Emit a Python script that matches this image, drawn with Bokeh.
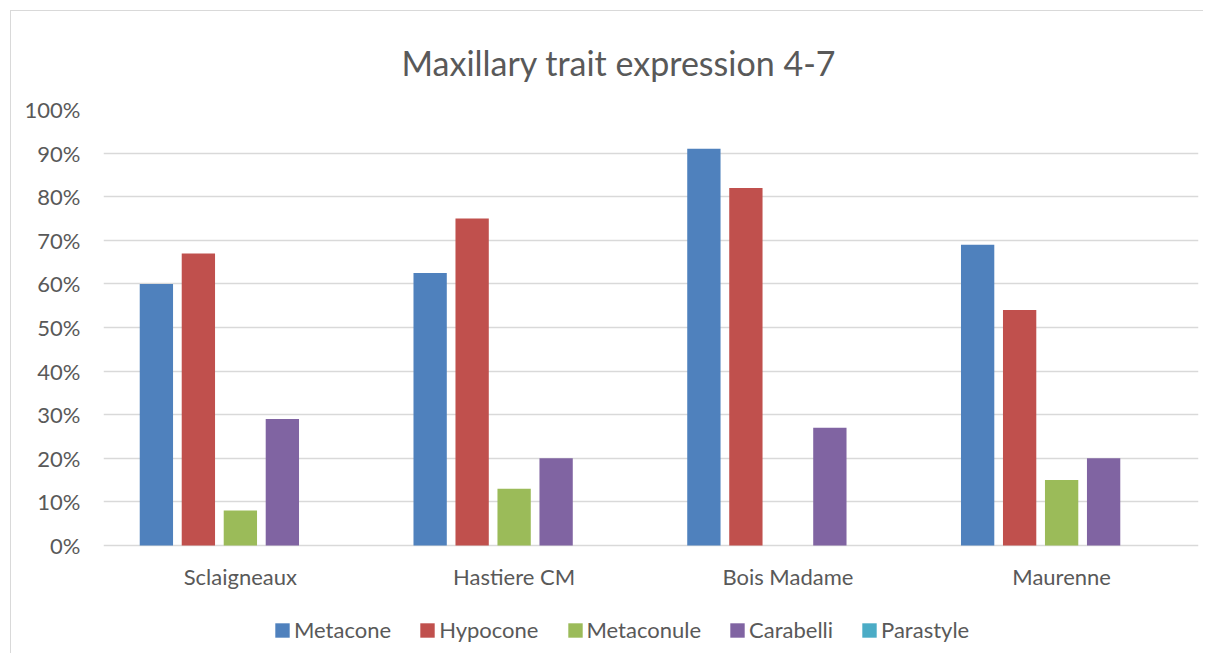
from bokeh.plotting import figure
from bokeh.models import FactorRange, Range1d, FixedTicker, Legend, LegendItem, ColumnDataSource
from bokeh.transform import dodge
from bokeh.embed import file_html
from bokeh.resources import INLINE

sites = ["Sclaigneaux", "Hastiere CM", "Bois Madame", "Maurenne"]
series = ["Metacone", "Hypocone", "Metaconule", "Carabelli", "Parastyle"]
metacone = [60, 62.5, 91, 69]
hypocone = [67, 75, 82, 54]
metaconule = [8, 13, 0, 15]
carabelli = [29, 20, 27, 20]
parastyle = [0, 0, 0, 0]
colors = ["#4F81BD", "#C0504D", "#9BBB59", "#8064A2", "#4BACC6"]
y_ticks = list(range(0, 101, 10))

FONT = "Lato"
TXT = "#595959"
GRID = "#D9D9D9"

source = ColumnDataSource(dict(site=sites, Metacone=metacone, Hypocone=hypocone,
                               Metaconule=metaconule, Carabelli=carabelli,
                               Parastyle=parastyle))

# y range extends below 0 so the legend area lies inside the frame;
# grid and labels are only drawn for 0..100 %
p = figure(x_range=FactorRange(*sites), y_range=Range1d(-25, 100),
           width=1193, height=643, output_backend="svg", toolbar_location=None,
           min_border_left=92, min_border_right=6, min_border_top=98,
           min_border_bottom=0)
p.margin = (10, 0, 0, 10)
p.styles = {"border-left": "1px solid #D9D9D9", "border-top": "1px solid #D9D9D9"}
p.outline_line_color = None

p.title.text = "Maxillary trait expression 4-7"
p.title.align = "left"
p.title.offset = 298
p.title.text_font = FONT
p.title.text_font_size = "34px"
p.title.text_font_style = "normal"
p.title.text_color = TXT
p.title.standoff = 54

pitch = 0.1534
bw = 0.1217
items = []
for i, (name, col) in enumerate(zip(series, colors)):
    r = p.vbar(x=dodge("site", (i - 2) * pitch, range=p.x_range), top=name,
               width=bw, source=source, fill_color=col, line_color=None)
    items.append(LegendItem(label=name, renderers=[r]))

p.xgrid.grid_line_color = None
p.ygrid.grid_line_color = GRID
p.ygrid.grid_line_width = 1.3
p.ygrid.ticker = FixedTicker(ticks=y_ticks)

p.yaxis.ticker = FixedTicker(ticks=y_ticks)
p.yaxis.major_label_overrides = {t: f"{t}%" for t in y_ticks}
p.yaxis.axis_line_color = None
p.yaxis.major_tick_line_color = None
p.yaxis.minor_tick_line_color = None
p.yaxis.major_tick_out = 0
p.yaxis.major_label_standoff = 23
p.yaxis.major_label_text_font = FONT
p.yaxis.major_label_text_font_size = "22px"
p.yaxis.major_label_text_color = TXT

p.xaxis.fixed_location = 0
p.xaxis.axis_line_color = None
p.xaxis.major_tick_line_color = None
p.xaxis.major_tick_out = 0
p.xaxis.major_label_standoff = 17
p.xaxis.major_label_text_font = FONT
p.xaxis.major_label_text_font_size = "22px"
p.xaxis.major_label_text_color = TXT

legend = Legend(items=items, orientation="horizontal", location=(170, 11),
                glyph_width=18, glyph_height=18, label_standoff=3, spacing=27,
                padding=0, margin=0, border_line_color=None,
                background_fill_alpha=0,
                label_text_font=FONT, label_text_font_size="22px",
                label_text_color=TXT)
p.add_layout(legend, "center")

open("out.html", "w").write(file_html(p, INLINE))
